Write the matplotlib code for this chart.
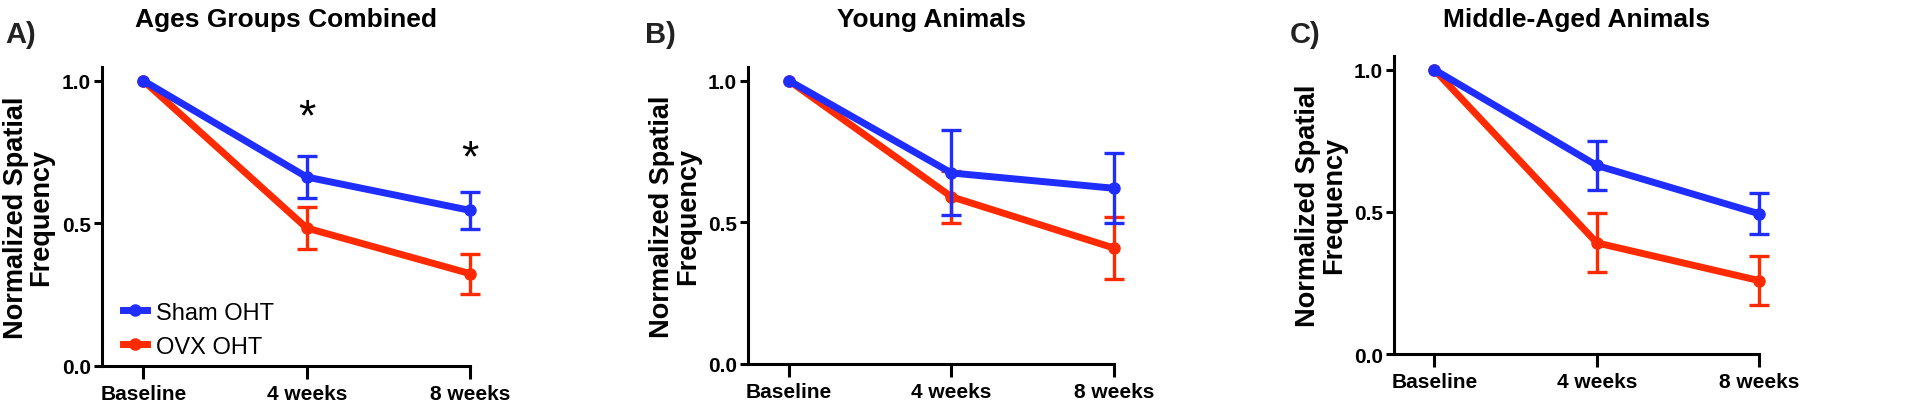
import matplotlib
matplotlib.use("Agg")
import matplotlib.pyplot as plt

plt.rcParams['font.family'] = ['Liberation Sans', 'DejaVu Sans']

timepoints = ['Baseline', '4 weeks', '8 weeks']
series_names = ['Sham OHT', 'OVX OHT']

titles = ['Ages Groups Combined', 'Young Animals', 'Middle-Aged Animals']
panel_letters = ['A)', 'B)', 'C)']

# means and SEM (baseline has no error bar)
sham_mean = [[1.0, 0.662, 0.545], [1.0, 0.674, 0.620], [1.0, 0.663, 0.493]]
sham_sem = [[0.0, 0.075, 0.066], [0.0, 0.150, 0.123], [0.0, 0.087, 0.072]]
ovx_mean = [[1.0, 0.483, 0.323], [1.0, 0.590, 0.409], [1.0, 0.391, 0.258]]
ovx_sem = [[0.0, 0.073, 0.070], [0.0, 0.092, 0.110], [0.0, 0.104, 0.087]]

# significance stars (panel A only)
star_x = [1, 2]
star_y = [0.87, 0.725]

BLUE = '#1f2dff'
RED = '#ff2a00'

fig = plt.figure(figsize=(19.2, 4.1), dpi=100)

# axes boxes in figure fraction (left, bottom, width, height)
boxes = [(0.0530, 0.1056, 0.1918, 0.7278),
         (0.3897, 0.1098, 0.1905, 0.7237),
         (0.7262, 0.1341, 0.1901, 0.7276)]
xlefts = [-0.255, -0.25, -0.246]
ytops = [1.047, 1.047, 1.049]
letter_x = [0.003, 0.336, 0.672]

x = list(range(len(timepoints)))
axes = []
for i in range(3):
    ax = fig.add_axes(boxes[i])
    axes.append(ax)
    for mean, sem, col, name, z in [(ovx_mean[i], ovx_sem[i], RED, series_names[1], 3),
                                    (sham_mean[i], sham_sem[i], BLUE, series_names[0], 4)]:
        ax.plot(x, mean, color=col, lw=5, marker='o', ms=8, label=name, zorder=z, clip_on=False)
        ax.errorbar(x[1:], mean[1:], yerr=sem[1:], fmt='none', ecolor=col, elinewidth=2.4,
                    capsize=7, capthick=2.4, zorder=z, clip_on=False)

    ax.set_xlim(xlefts[i], 2)
    ax.set_ylim(0, ytops[i])
    ax.set_xticks(x)
    ax.set_xticklabels(timepoints)
    ax.set_yticks([0, 0.5, 1.0])
    ax.set_yticklabels(['0.0', '0.5', '1.0'])
    for s in ['top', 'right']:
        ax.spines[s].set_visible(False)
    for s in ['left', 'bottom']:
        ax.spines[s].set_linewidth(2.2)
    ax.tick_params(axis='x', length=9, width=2.2, labelsize=15, pad=4)
    ax.tick_params(axis='y', length=6, width=2.2, labelsize=15, pad=2)
    for lbl in ax.get_xticklabels() + ax.get_yticklabels():
        lbl.set_fontweight('bold')
    ax.set_ylabel('Normalized Spatial\nFrequency', fontsize=19.5, fontweight='bold', labelpad=5, linespacing=1.0)

    cx = boxes[i][0] + boxes[i][2] / 2
    fig.text(cx, 0.952, titles[i], ha='center', va='center', fontsize=19, fontweight='bold')
    fig.text(letter_x[i], 0.915, panel_letters[i], ha='left', va='center',
             fontsize=21, fontweight='bold', color='#222222')

for sx, sy in zip(star_x, star_y):
    axes[0].text(sx, sy, '*', ha='center', va='center', fontsize=32)

h, l = axes[0].get_legend_handles_labels()
axes[0].legend(h[::-1], l[::-1], loc='lower left', bbox_to_anchor=(0.02, -0.02), frameon=False,
               fontsize=17, handlelength=1.0, handletextpad=0.4, labelspacing=0.5, borderaxespad=0.2)

fig.savefig('out.png', dpi=100)
